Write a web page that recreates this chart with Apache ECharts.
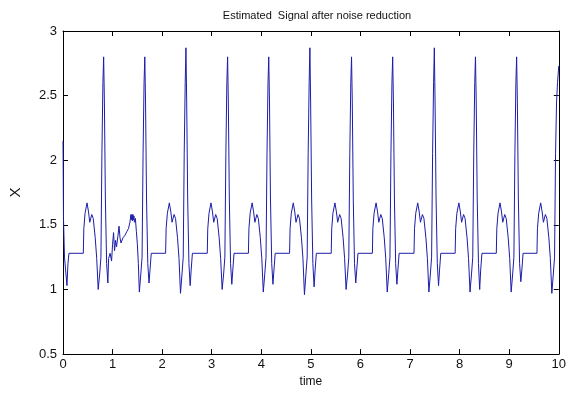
<!DOCTYPE html>
<html>
<head>
<meta charset="utf-8">
<script src="https://cdn.jsdelivr.net/npm/echarts@6/dist/echarts.min.js"></script>
<style>
  html, body { margin: 0; padding: 0; background: #fff; }
  #chart { width: 569px; height: 393px; }
</style>
</head>
<body>
<div id="chart"></div>
<script>
// sample times (s)
const time = [
  0.00, 0.01, 0.03, 0.06, 0.08, 0.10, 0.12,
  0.41, 0.42, 0.445, 0.485, 0.515, 0.54, 0.58, 0.61, 0.65, 0.68, 0.71, 0.74, 0.765, 0.785, 0.805, 0.82,
  0.835, 0.855, 0.88, 0.905,
  0.92, 0.95, 0.98, 1.00, 1.02, 1.04, 1.06, 1.08, 1.11, 1.13, 1.15, 1.17, 1.21, 1.25, 1.29, 1.32, 1.35,
  1.37, 1.38, 1.39, 1.40, 1.41, 1.42, 1.43, 1.44, 1.46, 1.48, 1.50, 1.52, 1.54, 1.57, 1.595, 1.615, 1.635, 1.65,
  1.665, 1.685, 1.71, 1.735, 1.755, 1.78,
  2.07, 2.08, 2.105, 2.145, 2.175, 2.20, 2.24, 2.27, 2.31, 2.34, 2.37, 2.40, 2.425, 2.445, 2.465, 2.48,
  2.495, 2.515, 2.54, 2.565, 2.585, 2.61,
  2.91, 2.92, 2.945, 2.985, 3.015, 3.04, 3.08, 3.11, 3.15, 3.18, 3.21, 3.24, 3.265, 3.285, 3.305, 3.32,
  3.335, 3.355, 3.38, 3.405, 3.425, 3.45,
  3.74, 3.75, 3.775, 3.815, 3.845, 3.87, 3.91, 3.94, 3.98, 4.01, 4.04, 4.07, 4.095, 4.115, 4.135, 4.15,
  4.165, 4.185, 4.21, 4.235, 4.255, 4.28,
  4.57, 4.58, 4.605, 4.645, 4.675, 4.70, 4.74, 4.77, 4.81, 4.84, 4.87, 4.90, 4.925, 4.945, 4.965, 4.98,
  4.995, 5.015, 5.04, 5.065, 5.085, 5.11,
  5.41, 5.42, 5.445, 5.485, 5.515, 5.54, 5.58, 5.61, 5.65, 5.68, 5.71, 5.74, 5.765, 5.785, 5.805, 5.82,
  5.835, 5.855, 5.88, 5.905, 5.925, 5.95,
  6.24, 6.25, 6.275, 6.315, 6.345, 6.37, 6.41, 6.44, 6.48, 6.51, 6.54, 6.57, 6.595, 6.615, 6.635, 6.65,
  6.665, 6.685, 6.71, 6.735, 6.755, 6.78,
  7.08, 7.09, 7.115, 7.155, 7.185, 7.21, 7.25, 7.28, 7.32, 7.35, 7.38, 7.41, 7.435, 7.455, 7.475, 7.49,
  7.505, 7.525, 7.55, 7.575, 7.595, 7.62,
  7.91, 7.92, 7.945, 7.985, 8.015, 8.04, 8.08, 8.11, 8.15, 8.18, 8.21, 8.24, 8.265, 8.285, 8.305, 8.32,
  8.335, 8.355, 8.38, 8.405, 8.425, 8.45,
  8.74, 8.75, 8.775, 8.815, 8.845, 8.87, 8.91, 8.94, 8.98, 9.01, 9.04, 9.07, 9.095, 9.115, 9.135, 9.15,
  9.165, 9.185, 9.21, 9.235, 9.255, 9.28,
  9.56, 9.57, 9.595, 9.635, 9.665, 9.69, 9.73, 9.76, 9.80, 9.83, 9.86, 9.89, 9.915, 9.935, 9.955, 9.975, 10.00
]

// estimated signal X at those times
const signal = [
  2.15, 1.55, 1.25, 1.25, 1.03, 1.20, 1.28,
  1.28, 1.47, 1.59, 1.67, 1.60, 1.52, 1.58, 1.55, 1.40, 1.24, 1.00, 1.12, 1.25, 2.05, 2.60, 2.80,
  2.45, 1.70, 1.20, 1.05,
  1.24, 1.28, 1.22, 1.35, 1.44, 1.30, 1.38, 1.33, 1.42, 1.49, 1.40, 1.36, 1.40, 1.42, 1.45, 1.47, 1.52,
  1.58, 1.54, 1.58, 1.53, 1.58, 1.54, 1.57, 1.52, 1.55, 1.45, 1.35, 1.20, 0.98, 1.12, 1.25, 2.05, 2.60, 2.80,
  2.45, 1.70, 1.20, 1.05, 1.15, 1.28,
  1.28, 1.47, 1.59, 1.67, 1.60, 1.52, 1.58, 1.55, 1.40, 1.24, 0.97, 1.12, 1.25, 2.05, 2.60, 2.87,
  2.45, 1.70, 1.20, 1.03, 1.15, 1.28,
  1.28, 1.47, 1.59, 1.67, 1.60, 1.52, 1.58, 1.55, 1.40, 1.24, 1.00, 1.12, 1.25, 2.05, 2.60, 2.80,
  2.45, 1.70, 1.20, 1.04, 1.15, 1.28,
  1.28, 1.47, 1.59, 1.67, 1.60, 1.52, 1.58, 1.55, 1.40, 1.24, 0.98, 1.12, 1.25, 2.05, 2.60, 2.80,
  2.45, 1.70, 1.20, 1.04, 1.15, 1.28,
  1.28, 1.47, 1.59, 1.67, 1.60, 1.52, 1.58, 1.55, 1.40, 1.24, 0.96, 1.12, 1.25, 2.05, 2.60, 2.87,
  2.45, 1.70, 1.20, 1.02, 1.15, 1.28,
  1.28, 1.47, 1.59, 1.67, 1.60, 1.52, 1.58, 1.55, 1.40, 1.24, 1.00, 1.12, 1.25, 2.05, 2.60, 2.80,
  2.45, 1.70, 1.20, 1.05, 1.15, 1.28,
  1.28, 1.47, 1.59, 1.67, 1.60, 1.52, 1.58, 1.55, 1.40, 1.24, 0.98, 1.12, 1.25, 2.05, 2.60, 2.80,
  2.45, 1.70, 1.20, 1.04, 1.15, 1.28,
  1.28, 1.47, 1.59, 1.67, 1.60, 1.52, 1.58, 1.55, 1.40, 1.24, 0.98, 1.12, 1.25, 2.05, 2.60, 2.87,
  2.45, 1.70, 1.20, 1.03, 1.15, 1.28,
  1.28, 1.47, 1.59, 1.67, 1.60, 1.52, 1.58, 1.55, 1.40, 1.24, 0.98, 1.12, 1.25, 2.05, 2.60, 2.80,
  2.45, 1.70, 1.20, 1.00, 1.15, 1.28,
  1.28, 1.47, 1.59, 1.67, 1.60, 1.52, 1.58, 1.55, 1.40, 1.24, 0.98, 1.12, 1.25, 2.05, 2.60, 2.80,
  2.45, 1.70, 1.20, 1.06, 1.15, 1.28,
  1.28, 1.47, 1.59, 1.67, 1.60, 1.52, 1.58, 1.55, 1.40, 1.24, 0.97, 1.12, 1.25, 2.05, 2.45, 2.60, 2.73
]

const xTicks = [0, 1, 2, 3, 4, 5, 6, 7, 8, 9, 10]
const yTicks = [0.5, 1, 1.5, 2, 2.5, 3]

const font = 'Liberation Sans, Arial, sans-serif'

const plainAxis = {
    axisLine: { show: true, onZero: false, lineStyle: { color: '#000', width: 1 } },
    axisTick: { show: true, inside: true, length: 5, lineStyle: { color: '#000' } },
    splitLine: { show: false }
}

const myChart = echarts.init(document.getElementById('chart'), null, { renderer: 'canvas' })

const option = {
    animation: false,
    backgroundColor: '#fff',
    title: {
        text: 'Estimated  Signal after noise reduction',
        left: 312,
        textAlign: 'center',
        top: 5,
        textStyle: { fontFamily: font, fontSize: 11, fontWeight: 'normal', color: '#111' }
    },
    grid: { left: 61, right: 5, top: 31, bottom: 36 },
    xAxis: [
        {
            ...plainAxis,
            type: 'value',
            min: xTicks[0],
            max: xTicks[xTicks.length - 1],
            interval: 1,
            position: 'bottom',
            name: 'time',
            nameLocation: 'middle',
            nameGap: 21,
            nameTextStyle: { fontFamily: font, fontSize: 12, color: '#111' },
            axisLabel: { fontFamily: font, fontSize: 13, color: '#111', margin: 4 }
        },
        {
            ...plainAxis,
            type: 'value',
            min: xTicks[0],
            max: xTicks[xTicks.length - 1],
            interval: 1,
            position: 'top',
            axisLabel: { show: false }
        }
    ],
    yAxis: [
        {
            ...plainAxis,
            type: 'value',
            min: yTicks[0],
            max: yTicks[yTicks.length - 1],
            interval: 0.5,
            position: 'left',
            name: 'X',
            nameLocation: 'middle',
            nameRotate: 90,
            nameGap: 40,
            nameTextStyle: { fontFamily: font, fontSize: 15, color: '#111' },
            axisLabel: { fontFamily: font, fontSize: 13, color: '#111', margin: 6 }
        },
        {
            ...plainAxis,
            type: 'value',
            min: yTicks[0],
            max: yTicks[yTicks.length - 1],
            interval: 0.5,
            position: 'right',
            axisLabel: { show: false }
        }
    ],
    series: [{
        type: 'line',
        xAxisIndex: 0,
        yAxisIndex: 0,
        showSymbol: false,
        data: time.map((t, i) => [t, signal[i]]),
        lineStyle: { color: '#1c1caa', width: 1 },
        itemStyle: { color: '#1c1caa' }
    }]
}

myChart.setOption(option)
</script>
</body>
</html>
